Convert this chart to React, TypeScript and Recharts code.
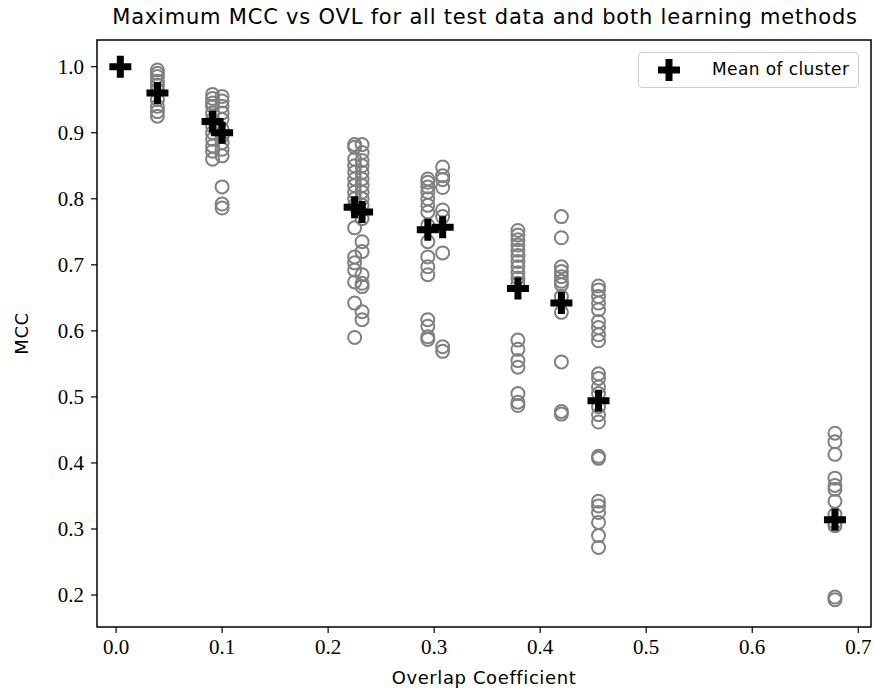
import React from "react";
import {
  ScatterChart,
  Scatter,
  XAxis,
  YAxis,
  ReferenceArea,
} from "recharts";

// Overlap coefficient of each column of results
const ovl00 = 0.004;
const ovl04 = 0.039;
const ovl09a = 0.091;
const ovl09b = 0.1;
const ovl22a = 0.225;
const ovl22b = 0.232;
const ovl29a = 0.294;
const ovl29b = 0.308;
const ovl37 = 0.379;
const ovl42 = 0.42;
const ovl45 = 0.455;
const ovl68 = 0.678;

// Maximum MCC values for each column
const mcc04 = [0.995, 0.99, 0.985, 0.978, 0.972, 0.965, 0.95, 0.94, 0.932, 0.925];
const mcc09a = [0.958, 0.952, 0.945, 0.94, 0.93, 0.92, 0.91, 0.9, 0.89, 0.88, 0.872, 0.86];
const mcc09b = [0.955, 0.948, 0.94, 0.93, 0.92, 0.905, 0.895, 0.885, 0.875, 0.865, 0.818, 0.792, 0.786];
const mcc22a = [0.882, 0.878, 0.86, 0.85, 0.84, 0.83, 0.82, 0.81, 0.8, 0.79, 0.756, 0.712, 0.703, 0.692, 0.674, 0.642, 0.59];
const mcc22b = [0.882, 0.87, 0.858, 0.85, 0.84, 0.83, 0.82, 0.81, 0.8, 0.79, 0.77, 0.735, 0.72, 0.685, 0.672, 0.667, 0.629, 0.617];
const mcc29a = [0.83, 0.825, 0.818, 0.81, 0.8, 0.79, 0.78, 0.76, 0.735, 0.712, 0.697, 0.685, 0.617, 0.607, 0.591, 0.587];
const mcc29b = [0.848, 0.835, 0.829, 0.817, 0.783, 0.773, 0.718, 0.576, 0.569];
const mcc37 = [0.752, 0.745, 0.738, 0.73, 0.722, 0.714, 0.705, 0.697, 0.688, 0.68, 0.672, 0.586, 0.572, 0.555, 0.545, 0.505, 0.492, 0.487];
const mcc42 = [0.773, 0.741, 0.697, 0.69, 0.682, 0.675, 0.67, 0.652, 0.628, 0.553, 0.478, 0.474];
const mcc45 = [0.668, 0.662, 0.652, 0.642, 0.632, 0.614, 0.605, 0.594, 0.585, 0.535, 0.528, 0.515, 0.505, 0.485, 0.473, 0.462, 0.41, 0.407, 0.342, 0.335, 0.325, 0.31, 0.29, 0.272];
const mcc68 = [0.445, 0.432, 0.413, 0.377, 0.366, 0.36, 0.342, 0.322, 0.31, 0.305, 0.197, 0.193];

// Cluster means
const meanOvl = [ovl00, ovl04, ovl09a, ovl09b, ovl22a, ovl22b, ovl29a, ovl29b, ovl37, ovl42, ovl45, ovl68];
const meanMcc = [1.0, 0.96, 0.917, 0.9, 0.787, 0.78, 0.753, 0.757, 0.664, 0.642, 0.494, 0.314];

const xTicks = [0.0, 0.1, 0.2, 0.3, 0.4, 0.5, 0.6, 0.7];
const yTicks = [0.2, 0.3, 0.4, 0.5, 0.6, 0.7, 0.8, 0.9, 1.0];

const X_DOMAIN: [number, number] = [-0.018, 0.712];
const Y_DOMAIN: [number, number] = [0.1516, 1.0404];

const columns: [number, number[]][] = [
  [ovl04, mcc04],
  [ovl09a, mcc09a],
  [ovl09b, mcc09b],
  [ovl22a, mcc22a],
  [ovl22b, mcc22b],
  [ovl29a, mcc29a],
  [ovl29b, mcc29b],
  [ovl37, mcc37],
  [ovl42, mcc42],
  [ovl45, mcc45],
  [ovl68, mcc68],
];

const points = columns.flatMap(([x, ys]) => ys.map((y) => ({ ovl: x, mcc: y })));
const means = meanOvl.map((x, i) => ({ ovl: x, mcc: meanMcc[i] }));

const SERIF = "'Liberation Serif', 'DejaVu Serif', serif";
const SANS = "'DejaVu Sans', sans-serif";

const HollowCircle = (props: any) => {
  const { cx, cy } = props;
  if (cx == null || cy == null) return null;
  return <circle cx={cx} cy={cy} r={6.5} fill="none" stroke="#808080" strokeWidth={2} />;
};

const plusPath = (cx: number, cy: number, L: number, T: number) =>
  `M${cx - T},${cy - L}H${cx + T}V${cy - T}H${cx + L}V${cy + T}H${cx + T}V${cy + L}H${cx - T}V${cy + T}H${cx - L}V${cy - T}H${cx - T}Z`;

const ThickPlus = (props: any) => {
  const { cx, cy } = props;
  if (cx == null || cy == null) return null;
  return <path d={plusPath(cx, cy, 11, 3.5)} fill="#000" />;
};

export default function App() {
  return (
    <div style={{ position: "absolute", left: 0, top: 0, width: 873, height: 691, background: "#fff" }}>
      <ScatterChart
        width={873}
        height={691}
        margin={{ top: 40, right: 2, bottom: 0, left: 0 }}
      >
        <XAxis
          type="number"
          dataKey="ovl"
          domain={X_DOMAIN}
          ticks={xTicks}
          allowDataOverflow
          height={64}
          tickFormatter={(v: number) => v.toFixed(1)}
          tick={{ fontFamily: SERIF, fontSize: 21, fill: "#000" }}
          tickLine={{ stroke: "#000", strokeWidth: 1.2 }}
          tickSize={6}
          tickMargin={6}
          axisLine={false}
          label={{
            value: "Overlap Coefficient",
            position: "insideBottom",
            offset: 7,
            style: { fontFamily: SANS, fontSize: 18, letterSpacing: 0.6, fill: "#000" },
          }}
        />
        <YAxis
          type="number"
          dataKey="mcc"
          domain={Y_DOMAIN}
          ticks={yTicks}
          allowDataOverflow
          width={97}
          tickFormatter={(v: number) => v.toFixed(1)}
          tick={{ fontFamily: SERIF, fontSize: 21, fill: "#000" }}
          tickLine={{ stroke: "#000", strokeWidth: 1.2 }}
          tickSize={6}
          tickMargin={7}
          axisLine={false}
          label={{
            value: "MCC",
            angle: -90,
            position: "insideLeft",
            offset: 22,
            style: { fontFamily: SANS, fontSize: 18, letterSpacing: 0.6, fill: "#000", textAnchor: "middle" },
          }}
        />
        <Scatter data={points} shape={HollowCircle} isAnimationActive={false} />
        <Scatter data={means} shape={ThickPlus} isAnimationActive={false} />
        <ReferenceArea
          x1={X_DOMAIN[0]}
          x2={X_DOMAIN[1]}
          y1={Y_DOMAIN[0]}
          y2={Y_DOMAIN[1]}
          fill="none"
          stroke="#000"
          strokeWidth={1.5}
          ifOverflow="visible"
        />
      </ScatterChart>
      <div
        style={{
          position: "absolute",
          left: 0,
          top: 5,
          width: 873,
          paddingLeft: 97,
          boxSizing: "border-box",
          textAlign: "center",
          fontFamily: SANS,
          fontSize: 21,
          letterSpacing: 0.8,
          color: "#000",
          whiteSpace: "nowrap",
        }}
      >
        Maximum MCC vs OVL for all test data and both learning methods
      </div>
      <div
        style={{
          position: "absolute",
          left: 638,
          top: 52,
          width: 221,
          height: 36,
          boxSizing: "border-box",
          border: "1px solid #cccccc",
          borderRadius: 4,
          background: "rgba(255,255,255,0.8)",
          fontFamily: SANS,
          fontSize: 17,
          letterSpacing: 0.4,
          color: "#000",
        }}
      >
        <svg width={24} height={24} style={{ position: "absolute", left: 18, top: 5 }}>
          <path d={plusPath(12, 12, 11, 3.5)} fill="#000" />
        </svg>
        <span style={{ position: "absolute", left: 73, top: 6, whiteSpace: "nowrap" }}>Mean of cluster</span>
      </div>
    </div>
  );
}
